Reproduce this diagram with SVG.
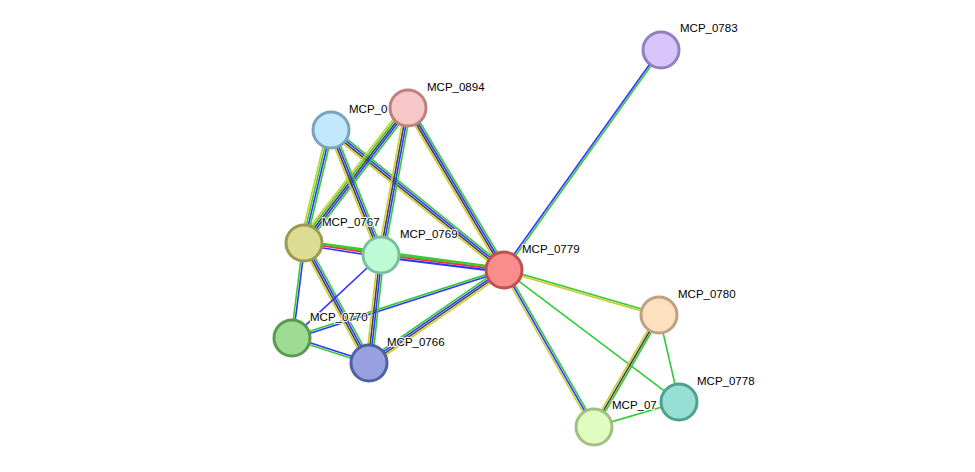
<svg xmlns="http://www.w3.org/2000/svg" width="975" height="472" viewBox="0 0 975 472">
<style>
line{stroke-width:1.6;fill:none}
.g{stroke:#33cc33}.b{stroke:#3333ff}.k{stroke:#444}.y{stroke:#cccc33}.r{stroke:#ff3333}
circle{stroke-width:3}
text{font-family:"Liberation Sans",Arial,sans-serif;font-size:11.5px;fill:#000;paint-order:stroke;stroke:#fff;stroke-width:2px}
</style>
<rect width="975" height="472" fill="#fff"/>
<g id="edges">
<g transform="translate(661,50) rotate(125.5)"><line x2="270" y1="-1" y2="-1" class="g"/><line x2="270" y1="1" y2="1" class="b"/></g>
<g transform="translate(504,270) rotate(16.2)"><line x2="161" y1="-1" y2="-1" class="g"/><line x2="161" y1="1" y2="1" class="y"/></g>
<g transform="translate(504,270) rotate(37)"><line x2="219" class="g"/></g>
<g transform="translate(504,270) rotate(60.2)"><line x2="181" y1="-2" y2="-2" class="g"/><line x2="181" class="b"/><line x2="181" y1="2" y2="2" class="y"/></g>
<g transform="translate(659,315) rotate(120.1)"><line x2="130" y1="-2" y2="-2" class="g"/><line x2="130" class="k"/><line x2="130" y1="2" y2="2" class="y"/></g>
<g transform="translate(659,315) rotate(77)"><line x2="89" class="g"/></g>
<g transform="translate(679,402) rotate(163.6)"><line x2="89" class="g"/></g>
<g transform="translate(408,108) rotate(59.3)"><line x2="188" y1="-3" y2="-3" class="g"/><line x2="188" y1="-1" y2="-1" class="b"/><line x2="188" y1="1" y2="1" class="k"/><line x2="188" y1="3" y2="3" class="y"/></g>
<g transform="translate(331,130) rotate(39)"><line x2="222" y1="-3" y2="-3" class="g"/><line x2="222" y1="-1" y2="-1" class="b"/><line x2="222" y1="1" y2="1" class="k"/><line x2="222" y1="3" y2="3" class="y"/></g>
<g transform="translate(304,243) rotate(7.7)"><line x2="202" y1="-2" y2="-2" class="g"/><line x2="202" class="g"/></g>
<g transform="translate(304,243) rotate(8.9)"><line x2="78" y1="-2" y2="-2" class="g"/><line x2="78" class="r"/><line x2="78" y1="2" y2="2" class="b"/></g>
<g transform="translate(381,255) rotate(7)"><line x2="124" y1="-2" y2="-2" class="g"/><line x2="124" class="r"/><line x2="124" y1="2" y2="2" class="b" style="stroke-width:2.2"/></g>
<g transform="translate(292,338) rotate(-17.8)"><line x2="223" y1="-1" y2="-1" class="g"/><line x2="223" y1="1" y2="1" class="b"/></g>
<g transform="translate(369,363) rotate(-34.6)"><line x2="164" y1="-3" y2="-3" class="g"/><line x2="164" y1="-1" y2="-1" class="b"/><line x2="164" y1="1" y2="1" class="k"/><line x2="164" y1="3" y2="3" class="y"/></g>
<g transform="translate(408,108) rotate(127.6)"><line x2="170" y1="-3" y2="-3" class="g"/><line x2="170" y1="-1" y2="-1" class="b"/><line x2="170" y1="1" y2="1" class="k"/><line x2="170" y1="3" y2="3" class="g"/><line x2="170" y1="5" y2="5" class="y"/></g>
<g transform="translate(408,108) rotate(100.4)"><line x2="150" y1="-3" y2="-3" class="g"/><line x2="150" y1="-1" y2="-1" class="b"/><line x2="150" y1="1" y2="1" class="k"/><line x2="150" y1="3" y2="3" class="y"/></g>
<g transform="translate(331,130) rotate(103.4)"><line x2="116" y1="-2" y2="-2" class="g"/><line x2="116" class="b"/><line x2="116" y1="2" y2="2" class="g"/><line x2="116" y1="4" y2="4" class="y"/></g>
<g transform="translate(331,130) rotate(68.2)"><line x2="135" y1="-3" y2="-3" class="g"/><line x2="135" y1="-1" y2="-1" class="b"/><line x2="135" y1="1" y2="1" class="k"/><line x2="135" y1="3" y2="3" class="y"/></g>
<g transform="translate(304,243) rotate(97.2)"><line x2="96" y1="-1" y2="-1" class="b"/><line x2="96" y1="1" y2="1" class="g"/></g>
<g transform="translate(304,243) rotate(61.6)"><line x2="136" y1="-3" y2="-3" class="g"/><line x2="136" y1="-1" y2="-1" class="b"/><line x2="136" y1="1" y2="1" class="k"/><line x2="136" y1="3" y2="3" class="y"/></g>
<g transform="translate(381,255) rotate(137)"><line x2="122" class="b"/></g>
<g transform="translate(381,255) rotate(96.3)"><line x2="109" y1="-3" y2="-3" class="g"/><line x2="109" y1="-1" y2="-1" class="b"/><line x2="109" y1="1" y2="1" class="k"/><line x2="109" y1="3" y2="3" class="y"/></g>
<g transform="translate(292,338) rotate(18)"><line x2="81" y1="-1" y2="-1" class="b"/><line x2="81" y1="1" y2="1" class="g"/></g>
</g>
<g id="n0783"><circle cx="661" cy="50" r="18" fill="#d7c4fb" stroke="#9080c0"/><text x="680" y="32">MCP_0783</text></g>
<g id="n0894"><text x="349" y="113">MCP_0</text><circle cx="408" cy="108" r="18" fill="#f7c6c6" stroke="#c08080"/><text x="427" y="91">MCP_0894</text></g>
<g id="n08xx"><circle cx="331" cy="130" r="18" fill="#c2e8fb" stroke="#7aa3c0"/></g>
<g id="n0767"><circle cx="304" cy="243" r="18" fill="#dcdc94" stroke="#9a9a50"/><text x="322" y="226">MCP_0767</text></g>
<g id="n0769"><circle cx="381" cy="255" r="18" fill="#bdfbd7" stroke="#7ac09a"/><text x="400" y="238">MCP_0769</text></g>
<g id="n0779"><circle cx="504" cy="270" r="18" fill="#fb8c8c" stroke="#c05050"/><text x="522" y="253">MCP_0779</text></g>
<g id="n0780"><circle cx="659" cy="315" r="18" fill="#fde0c0" stroke="#c0a080"/><text x="678" y="298">MCP_0780</text></g>
<g id="n07xx"><circle cx="594" cy="427" r="18" fill="#e0fcc0" stroke="#a0c080"/><text x="612" y="409">MCP_07</text></g>
<g id="n0778"><circle cx="679" cy="402" r="18" fill="#97dfd4" stroke="#50a090"/><text x="697" y="385">MCP_0778</text></g>
<g id="n0770"><circle cx="292" cy="338" r="18" fill="#9edc94" stroke="#5a9a50"/><text x="310" y="321">MCP_0770</text></g>
<g id="n0766"><circle cx="369" cy="363" r="18" fill="#98a0e0" stroke="#5060a0"/><text x="387" y="346">MCP_0766</text></g>
</svg>
